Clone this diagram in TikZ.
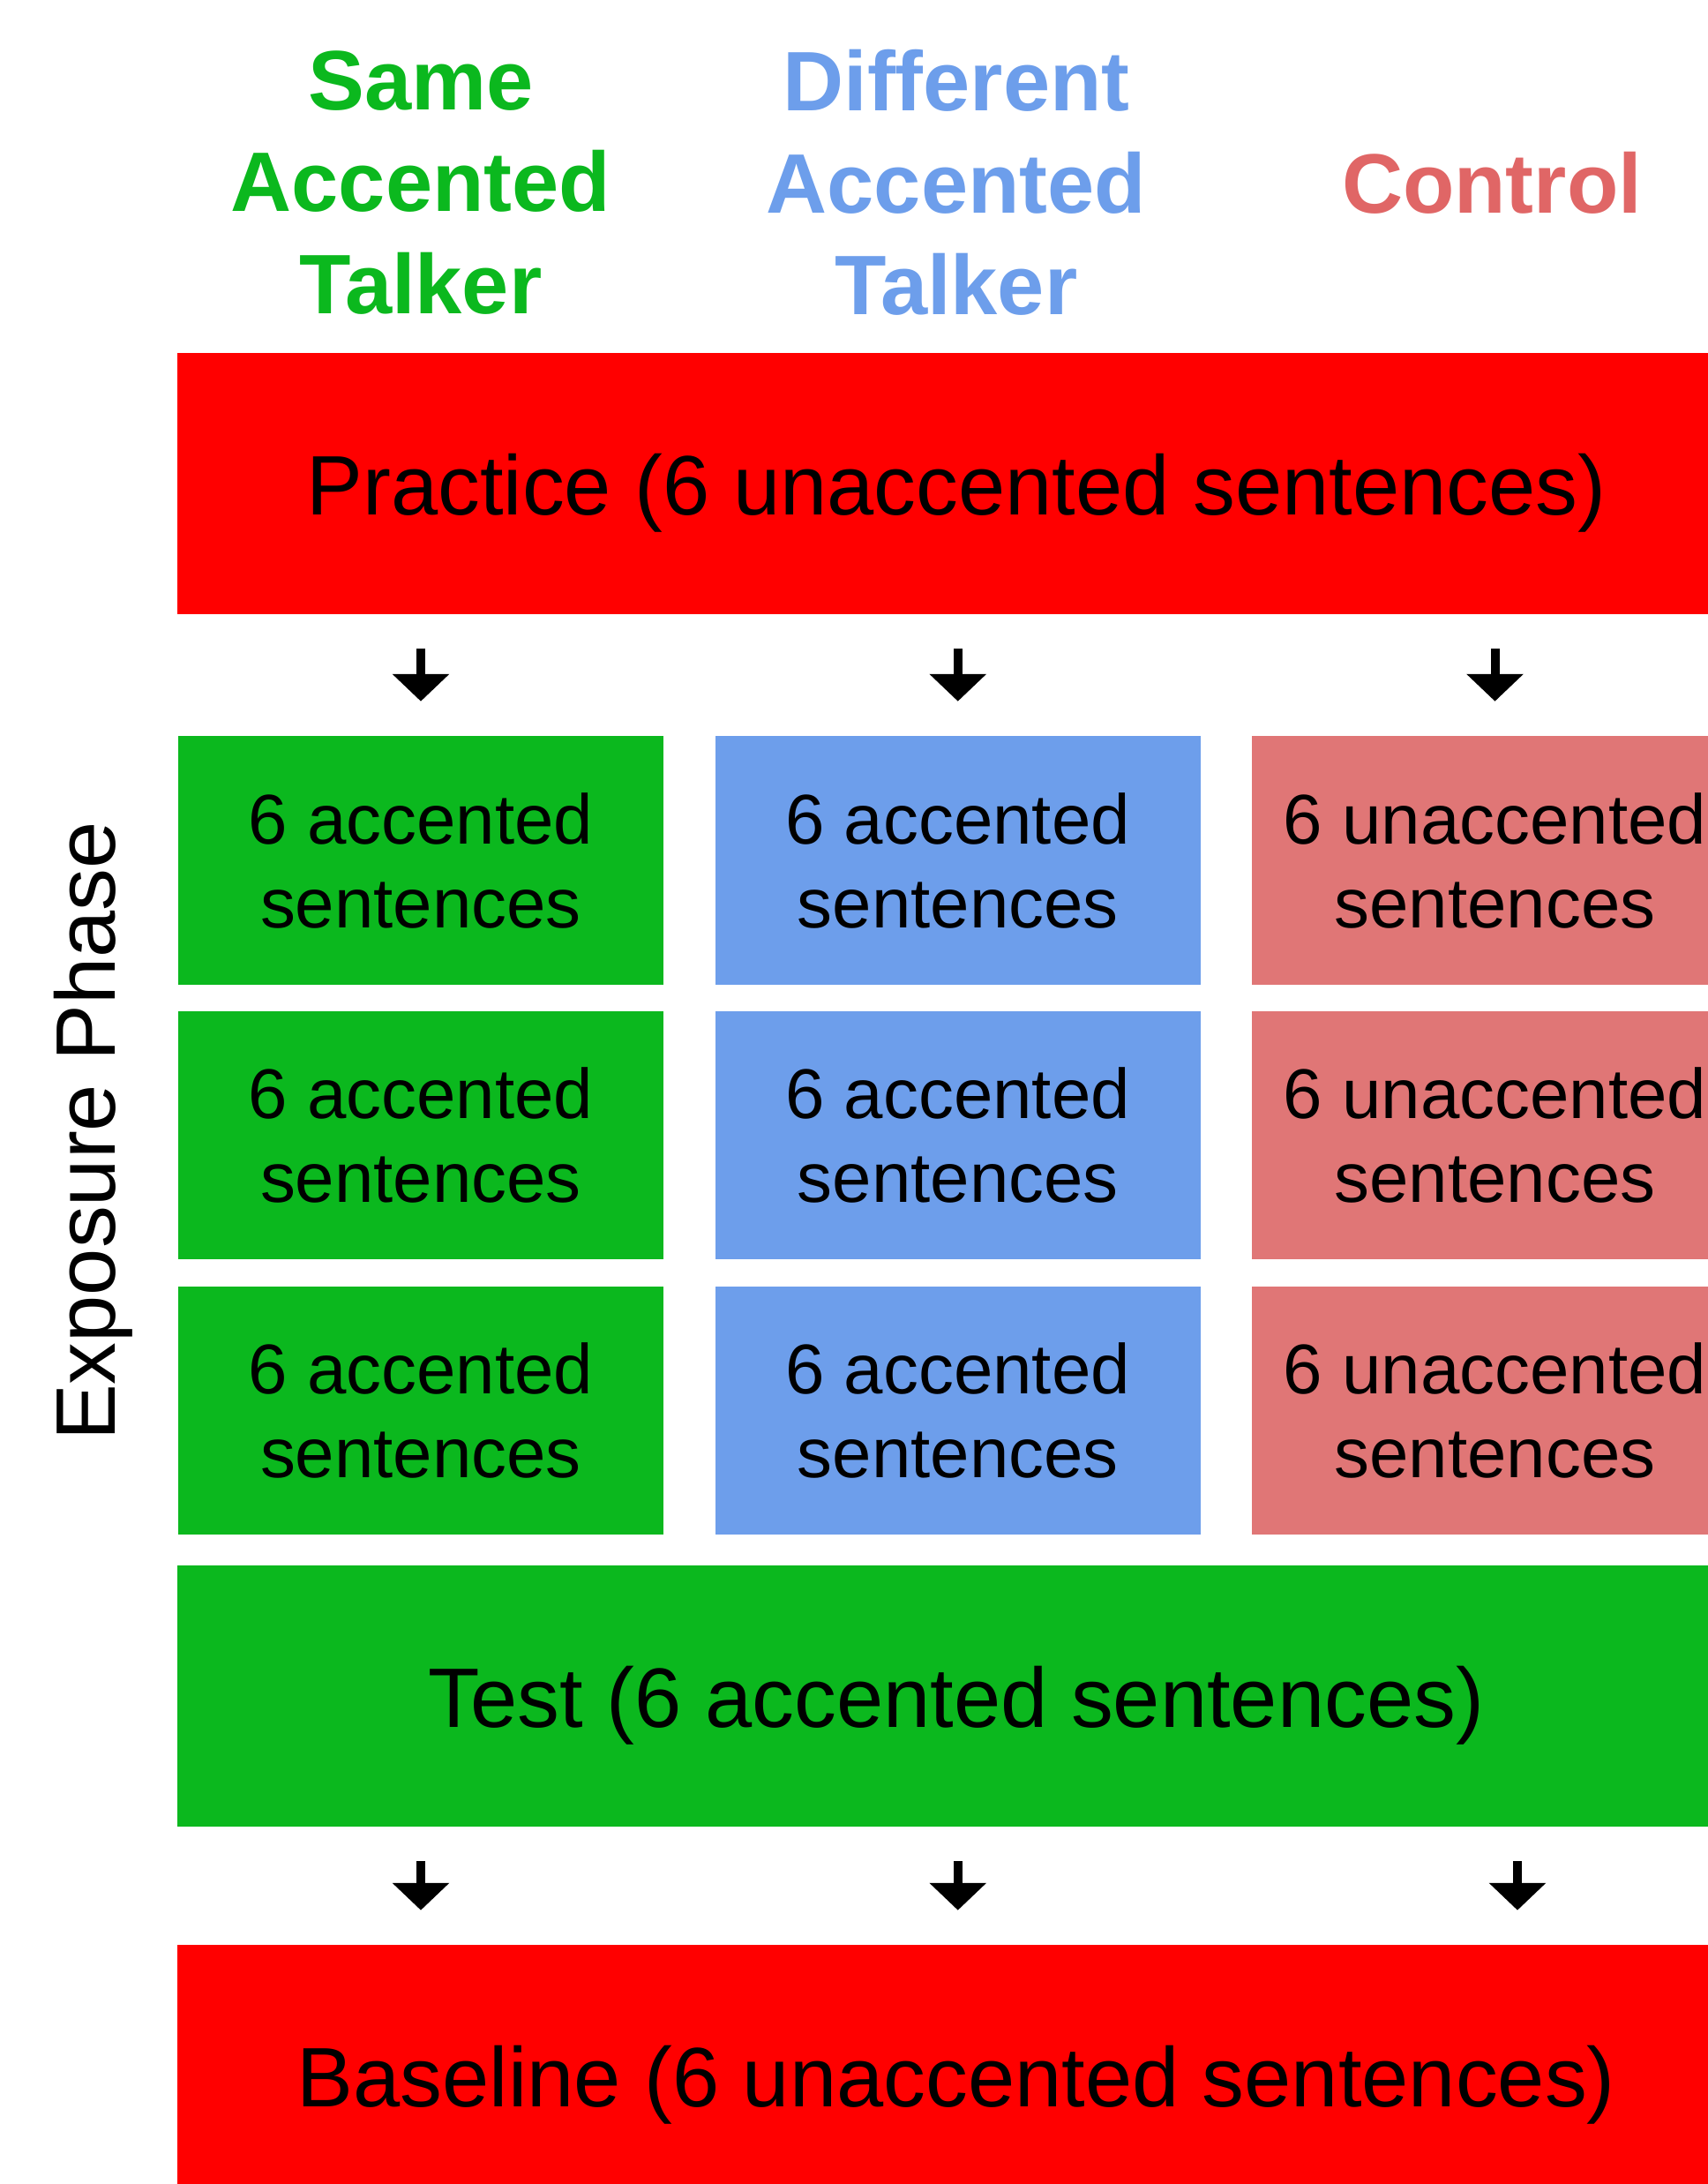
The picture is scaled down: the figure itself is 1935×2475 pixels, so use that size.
\documentclass[tikz,border=0pt]{standalone}
\usepackage{fontspec}
\setmainfont{Liberation Sans}
\usetikzlibrary{arrows.meta,positioning}
\definecolor{sameGreen}{HTML}{0BB81E}
\definecolor{diffBlue}{HTML}{6D9EEB}
\definecolor{ctrlRed}{HTML}{E07676}
\definecolor{ctrlText}{HTML}{E06666}
\definecolor{barRed}{HTML}{FF0000}

\begin{document}
\begin{tikzpicture}[x=0.01cm,y=-0.01cm,
    barbox/.style={minimum width=17.64cm,minimum height=2.95cm,inner sep=0pt,
                   text height=26pt,text depth=5.8pt,
                   font=\fontsize{27.2}{32.8}\selectfont},
    cellbox/.style={minimum width=5.5cm,minimum height=2.81cm,inner sep=0pt,
                    align=center,font=\fontsize{22.7}{27}\selectfont},
    headtext/.style={align=center,font=\fontsize{27.2}{32.8}\selectfont\bfseries},
    downarrow/.style={-{Triangle[width=17.9pt,length=8.8pt]},line width=2.85pt,
                      shorten <=0.39cm,shorten >=0.39cm}]

  \useasboundingbox (0,0) rectangle (1935,2475);

  % column heads
  \node[headtext,text=sameGreen] (hsame) at (477,207) {Same\\Accented\\Talker};
  \node[headtext,text=diffBlue] (hdiff) at (1084,207) {Different\\Accented\\Talker};
  \node[headtext,text=ctrlText] (hctrl) at (1691,207) {Control};

  \node[barbox,fill=barRed] (practice) at (1084,548) {Practice (6 unaccented sentences)};

  % exposure phase
  \node[cellbox,fill=sameGreen] (s1) at (477,975) {6 accented\\sentences};
  \node[cellbox,fill=sameGreen] (s2) [below=0.29cm of s1] {6 accented\\sentences};
  \node[cellbox,fill=sameGreen] (s3) [below=0.29cm of s2] {6 accented\\sentences};
  \node[cellbox,fill=diffBlue] (d1) [right=0.57cm of s1] {6 accented\\sentences};
  \node[cellbox,fill=diffBlue] (d2) [right=0.57cm of s2] {6 accented\\sentences};
  \node[cellbox,fill=diffBlue] (d3) [right=0.57cm of s3] {6 accented\\sentences};
  \node[cellbox,fill=ctrlRed] (c1) [right=0.57cm of d1] {6 unaccented\\sentences};
  \node[cellbox,fill=ctrlRed] (c2) [right=0.57cm of d2] {6 unaccented\\sentences};
  \node[cellbox,fill=ctrlRed] (c3) [right=0.57cm of d3] {6 unaccented\\sentences};

  \node[rotate=90,font=\fontsize{27.2}{32.8}\selectfont] (phase) at (106,1282) {Exposure Phase};

  \node[barbox,fill=sameGreen] (test) at (1084,1922) {Test (6 accented sentences)};
  \node[barbox,fill=barRed] (baseline) at (1084,2352) {Baseline (6 unaccented sentences)};

  \coordinate (b3) at (1720,2100);

  \draw[downarrow] (practice.south -| s1) -- (s1.north);
  \draw[downarrow] (practice.south -| d1) -- (d1.north);
  \draw[downarrow] (practice.south -| c1) -- (c1.north);
  \draw[downarrow] (test.south -| s3) -- (baseline.north -| s3);
  \draw[downarrow] (test.south -| d3) -- (baseline.north -| d3);
  \draw[downarrow] (test.south -| b3) -- (baseline.north -| b3);
\end{tikzpicture}
\end{document}
